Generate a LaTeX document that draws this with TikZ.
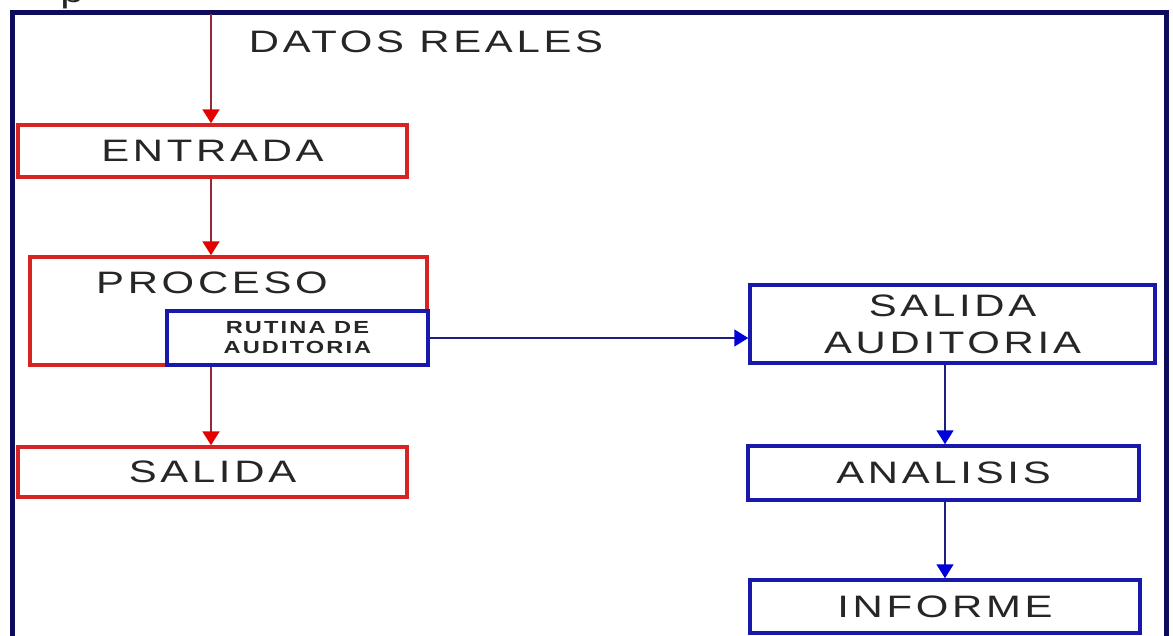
\documentclass[tikz,border=0pt]{standalone}
\usepackage{fontspec}
\newfontfamily\widesans[FakeStretch=1.35,LetterSpace=12]{Liberation Sans}
\usetikzlibrary{arrows.meta}
\definecolor{boxred}{RGB}{214,36,36}
\definecolor{linered}{RGB}{150,40,55}
\definecolor{boxblue}{RGB}{24,24,170}
\definecolor{lineblue}{RGB}{30,30,130}
\definecolor{framenavy}{RGB}{12,12,90}
\tikzset{bigtext/.style={font=\widesans\fontsize{31}{37}\selectfont,text=black!85},
         smalltext/.style={font=\widesans\fontsize{17.5}{20}\selectfont\bfseries,text=black!85}}
\begin{document}
\begin{tikzpicture}[x=1pt,y=-1pt,
  redbox/.style={draw=boxred,line width=3.5pt,fill=white,inner sep=0pt,bigtext},
  bluebox/.style={draw=boxblue,line width=3.5pt,fill=white,inner sep=0pt,bigtext,align=center},
  redarrow/.style={draw=linered,line width=2pt,-{Triangle[length=14pt,width=17pt,color=red!90!black]}},
  bluearrow/.style={draw=lineblue,line width=1.6pt,-{Triangle[length=14pt,width=17pt,color=blue!85!black]}}]
\useasboundingbox[fill=white] (0,0) rectangle (1173,635);
\clip (0,0) rectangle (1173,635);
% frame
\draw[framenavy,line width=5pt] (12,660) -- (12,12) -- (1166,12) -- (1166,660);
\node[bigtext,anchor=base] (cut) at (72,2) {p};
% left column
\coordinate (redaxis) at (211,14);
\node[bigtext] (datos) at (426,42) {DATOS REALES};
\node[redbox,minimum width=389pt,minimum height=52pt] (entrada) at (212.5,151) {ENTRADA};
\node[redbox,minimum width=397pt,minimum height=108pt] (proceso) at (228.5,311) {};
\node[bigtext] (procesotxt) at (212,283) {PROCESO};
\node[bluebox,smalltext,minimum width=261pt,minimum height=54pt] (rutina) at (297.5,338) {RUTINA DE\\AUDITORIA};
\node[redbox,minimum width=389pt,minimum height=50pt] (salida) at (212.5,472) {SALIDA};
% right column
\coordinate (blueaxis) at (945,0);
\node[bluebox,minimum width=405pt,minimum height=78pt] (salaud) at (952.5,324) {SALIDA\\AUDITORIA};
\node[bluebox,minimum width=391pt,minimum height=54pt] (analisis) at (943.5,473) {ANALISIS};
\node[bluebox,minimum width=390pt,minimum height=53pt] (informe) at (945,606.5) {INFORME};
% arrows
\draw[redarrow] (redaxis) -- (redaxis |- entrada.north);
\draw[redarrow] (redaxis |- entrada.south) -- (redaxis |- proceso.north);
\draw[redarrow] (redaxis |- rutina.south) -- (redaxis |- salida.north);
\draw[bluearrow] (rutina.east) -- (rutina.east -| salaud.west);
\draw[bluearrow] (blueaxis |- salaud.south) -- (blueaxis |- analisis.north);
\draw[bluearrow] (blueaxis |- analisis.south) -- (blueaxis |- informe.north);
\end{tikzpicture}
\end{document}
